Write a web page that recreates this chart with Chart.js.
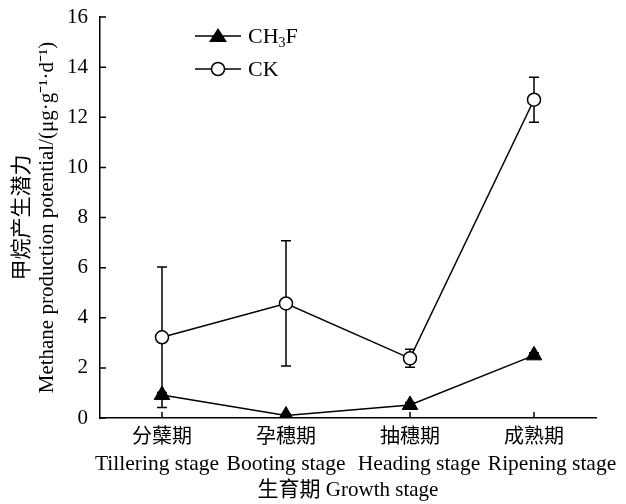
<!DOCTYPE html>
<html>
<head>
<meta charset="utf-8">
<script src="https://cdn.jsdelivr.net/npm/chart.js@4/dist/chart.umd.min.js"></script>
<style>
  html, body { margin: 0; padding: 0; background: #fff; }
  #wrap { width: 626px; height: 504px; }
</style>
</head>
<body>
<div id="wrap"><canvas id="c"></canvas></div>
<script>
// 生育期 categories: Chinese / English names
const stagesZh = ['分蘖期', '孕穗期', '抽穗期', '成熟期'];
const stagesEn = ['Tillering stage', 'Booting stage', 'Heading stage', 'Ripening stage'];
// 甲烷产生潜力 values (μg·g⁻¹·d⁻¹)
const ch3fValues = [0.92, 0.1, 0.52, 2.5];
const ch3fErrors = [0.1, 0.05, 0.1, 0.1];
const ckValues = [3.22, 4.57, 2.38, 12.7];
const ckErrors = [2.8, 2.5, 0.36, 0.9];
const yTicks = [0, 2, 4, 6, 8, 10, 12, 14, 16];

const FONT = '"Liberation Serif", "Times New Roman", "Noto Sans CJK SC", serif';

// error bars, drawn under the markers
const errorBars = {
  id: 'errorBars',
  beforeDatasetsDraw(chart) {
    const { ctx, scales: { y } } = chart;
    ctx.save();
    ctx.strokeStyle = '#000';
    ctx.lineWidth = 1.5;
    chart.data.datasets.forEach((ds, i) => {
      const meta = chart.getDatasetMeta(i);
      meta.data.forEach((pt, j) => {
        const err = ds.errors[j];
        if (!err) return;
        const top = y.getPixelForValue(ds.data[j] + err);
        const bot = y.getPixelForValue(ds.data[j] - err);
        ctx.beginPath();
        ctx.moveTo(pt.x, top); ctx.lineTo(pt.x, bot);
        ctx.moveTo(pt.x - 5, top); ctx.lineTo(pt.x + 5, top);
        ctx.moveTo(pt.x - 5, bot); ctx.lineTo(pt.x + 5, bot);
        ctx.stroke();
      });
    });
    ctx.restore();
  }
};

// inward tick marks + two-line category labels
const axisMarks = {
  id: 'axisMarks',
  afterDraw(chart) {
    const { ctx, scales: { x, y }, chartArea } = chart;
    ctx.save();
    ctx.strokeStyle = '#000';
    ctx.lineWidth = 1.5;
    ctx.beginPath();
    yTicks.forEach(v => {
      const py = y.getPixelForValue(v);
      ctx.moveTo(chartArea.left, py);
      ctx.lineTo(chartArea.left + 6, py);
    });
    stagesZh.forEach((s, i) => {
      const px = x.getPixelForValue(i);
      ctx.moveTo(px, chartArea.bottom);
      ctx.lineTo(px, chartArea.bottom - 6);
    });
    ctx.stroke();

    // english names are spread a little so they don't touch
    const enShift = [-5, 0, 9, 18];
    ctx.fillStyle = '#000';
    ctx.textAlign = 'center';
    ctx.textBaseline = 'middle';
    stagesZh.forEach((s, i) => {
      const px = x.getPixelForValue(i);
      ctx.font = '20px ' + FONT;
      ctx.fillText(s, px, chartArea.bottom + 20);
      ctx.font = '21.5px ' + FONT;
      ctx.fillText(stagesEn[i], px + enShift[i], chartArea.bottom + 46);
    });
    ctx.restore();
  }
};

// legend with line through marker
const lineLegend = {
  id: 'lineLegend',
  afterDraw(chart) {
    const { ctx } = chart;
    const x0 = 195, x1 = 241, tx = 248;
    const rows = [{ y: 36, tri: true }, { y: 69, tri: false }];
    ctx.save();
    ctx.strokeStyle = '#000';
    ctx.fillStyle = '#000';
    ctx.lineWidth = 1.5;
    rows.forEach(r => {
      ctx.beginPath();
      ctx.moveTo(x0, r.y); ctx.lineTo(x1, r.y);
      ctx.stroke();
      const mx = (x0 + x1) / 2;
      if (r.tri) {
        ctx.beginPath();
        ctx.moveTo(mx, r.y - 8);
        ctx.lineTo(mx + 9, r.y + 6);
        ctx.lineTo(mx - 9, r.y + 6);
        ctx.closePath();
        ctx.fill();
      } else {
        ctx.beginPath();
        ctx.arc(mx, r.y, 6.5, 0, Math.PI * 2);
        ctx.fillStyle = '#fff';
        ctx.fill();
        ctx.stroke();
        ctx.fillStyle = '#000';
      }
    });
    ctx.textBaseline = 'middle';
    ctx.textAlign = 'left';
    ctx.font = '22px ' + FONT;
    ctx.fillText('CH', tx, 37);
    let w = ctx.measureText('CH').width;
    ctx.font = '14px ' + FONT;
    ctx.fillText('3', tx + w, 43);
    const w3 = ctx.measureText('3').width;
    ctx.font = '22px ' + FONT;
    ctx.fillText('F', tx + w + w3, 37);
    ctx.fillText('CK', tx, 70);
    ctx.restore();
  }
};

new Chart(document.getElementById('c'), {
  type: 'line',
  data: {
    labels: stagesEn,
    datasets: [
      {
        label: 'CH3F',
        data: ch3fValues,
        errors: ch3fErrors,
        borderColor: '#000',
        backgroundColor: '#000',
        borderWidth: 1.5,
        pointStyle: 'triangle',
        pointRadius: 9,
        pointBorderWidth: 1,
        pointBackgroundColor: '#000',
        pointBorderColor: '#000',
        tension: 0
      },
      {
        label: 'CK',
        data: ckValues,
        errors: ckErrors,
        borderColor: '#000',
        backgroundColor: '#fff',
        borderWidth: 1.5,
        pointStyle: 'circle',
        pointRadius: 6.5,
        pointBorderWidth: 1.5,
        pointBackgroundColor: '#fff',
        pointBorderColor: '#000',
        tension: 0
      }
    ]
  },
  options: {
    responsive: true,
    maintainAspectRatio: false,
    animation: false,
    layout: { padding: { top: 17, right: 30, left: 0, bottom: 0 } },
    plugins: {
      legend: { display: false },
      tooltip: { enabled: false }
    },
    scales: {
      x: {
        type: 'category',
        offset: true,
        grid: { display: false, drawTicks: false },
        border: { display: true, color: '#000', width: 1.5 },
        ticks: { display: false },
        title: {
          display: true,
          text: '生育期 Growth stage',
          color: '#000',
          padding: { top: 0, bottom: 1 },
          font: { family: FONT, size: 21, lineHeight: 1.2 }
        },
        afterFit(scale) {
          scale.height = 86;
          scale.paddingLeft = 0;
          scale.paddingRight = 0;
        }
      },
      y: {
        min: 0,
        max: 16,
        grid: { display: false, drawTicks: false },
        border: { display: true, color: '#000', width: 1.5 },
        ticks: {
          stepSize: 2,
          color: '#000',
          padding: 12,
          font: { family: FONT, size: 21 }
        },
        title: {
          display: true,
          text: ['甲烷产生潜力', 'Methane production potential/(μg·g⁻¹·d⁻¹)'],
          color: '#000',
          padding: { top: 10, bottom: 0 },
          font: { family: FONT, size: 21, lineHeight: 1.2 }
        },
        afterFit(scale) {
          scale.width = 100;
          scale.paddingTop = 0;
          scale.paddingBottom = 0;
        }
      }
    }
  },
  plugins: [errorBars, axisMarks, lineLegend]
});
</script>
</body>
</html>
